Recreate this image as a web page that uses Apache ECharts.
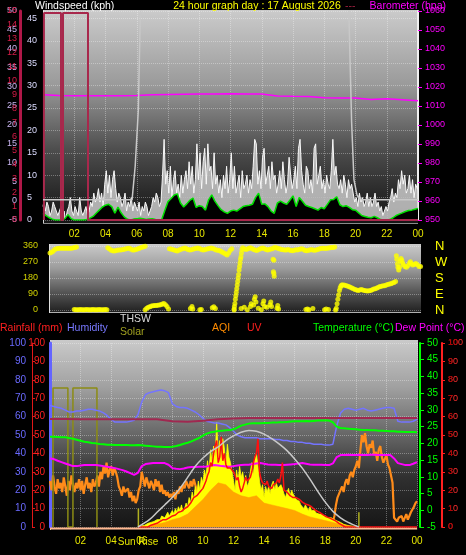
<!DOCTYPE html>
<html><head><meta charset="utf-8">
<script src="https://cdn.jsdelivr.net/npm/echarts@6/dist/echarts.min.js"></script>
<style>html,body{margin:0;padding:0;background:#000;}#c{width:466px;height:555px;}</style>
</head><body><div id="c"></div>
<script>
// ---------- tick labels ----------
const hourTickLabels = ['02','04','06','08','10','12','14','16','18','20','22','00'];
const compassLabels = ['N','E','S','W','N'];

// ---------- top panel: wind & barometer ----------
// gust speed every 0.1 h from 00:00
const gustKph = [
3,4,2,4,3,1,2,4,3,2,
1,2,3,1,2,0,2,3,5,2,
1,3,2,1,5,2,1,2,3,1,
2,4,3,6,4,5,7,4,6,3,
8,11,6,10,5,9,11,7,4,6,
5,3,4,6,2,4,3,5,2,4,
3,2,4,1,3,2,4,3,1,2,
3,5,4,6,5,3,4,10,18,8,
11,6,12,5,9,11,6,8,5,10,
6,9,11,7,13,8,12,6,9,17,
9,15,7,13,16,8,17,11,12,7,
15,8,10,6,9,5,10,7,12,6,
9,15,7,12,6,8,10,5,11,7,
8,10,6,9,7,12,18,17,8,11,
7,14,16,8,10,12,7,13,9,10,
6,8,11,7,13,9,6,8,14,10,
7,9,12,7,16,18,11,8,6,12,
11,7,9,6,16,17,8,10,12,7,
9,6,10,8,7,11,18,10,12,8,
7,9,6,10,8,5,9,7,8,6,
4,5,3,6,4,5,3,4,6,3,
5,3,4,6,3,4,2,3,1,2,
3,2,4,5,7,4,6,5,9,7,
11,8,10,6,7,10,6,9,5,8,
7];
// average speed every 0.2 h
const avgKph = [
1.5,1.0,0.5,0.2,0,0,0,0.3,1.2,0.3,
0,0,0,0,0.1,0.4,0.8,1.5,2.2,2.9,
3.3,3.5,3.0,1.5,2.9,1.6,0.7,0.2,0,0.2,
0.3,0.4,0.3,0.1,0.2,0.3,0.1,0,0.1,2.2,
4.1,4.8,5.6,5.8,3.8,2.9,3.6,4.4,4.9,2.8,
3.2,3.0,2.2,4.5,5.6,4.2,3.2,2.3,1.8,1.5,
2.0,2.2,2.0,2.5,3.0,3.2,3.3,3.5,5.0,6.0,
3.5,3.6,3.0,2.0,1.5,3.8,4.2,3.8,3.5,4.4,
5.4,3.0,5.0,4.2,3.3,3.0,2.8,2.5,2.2,2.8,
2.5,3.5,4.5,4.6,5.2,3.4,3.0,3.2,2.8,2.3,
2.2,1.6,1.0,0.8,0.6,0.5,0.8,0.5,0.1,0,
0,0.1,0.5,1.0,1.3,1.6,1.9,2.1,2.2,2.4,
2.6];
// barometer hourly
const baroHpa = [1015.9,1015.5,1015.4,1015.4,1015.4,1015.4,1015.5,1015.9,1016.1,1016.2,1016.3,1016.3,1016.4,1016.3,1016.3,1015.3,1015.1,1015.0,1014.3,1014.2,1014.2,1013.4,1013.8,1013.3,1012.7];
// dark red trace
const flagHours = [0.06,0.06,1.15,1.15,1.28,1.28,2.88,2.88,24];
const flagVals  = [0,46.2,46.2,0,0,46.2,46.2,0,0];
// grey trace (two visible pieces)
const greyHoursA = [0,5.7,5.9,6.1,6.22,6.3];
const greyValsA  = [4.5,4.5,12,24.5,44.6,50];
const greyHoursB = [19.55,19.62,19.75,19.9,20.1,20.4,24];
const greyValsB  = [50,40,22,9,5.5,4.5,4.5];

// ---------- middle panel: wind direction [hour, degrees] ----------
const windDir = [
[0.45,320],[0.55,325],[0.65,330],[0.75,340],[0.85,345],[0.95,346],[1.05,347],[1.15,347],[1.25,347],[1.35,347],[1.45,347],[1.55,347],[1.65,347],[1.75,347],[1.85,348],[1.95,350],[2.05,352],[2.15,355],
[2.0,3],[2.1,2],[2.2,1],[2.3,2],[2.4,3],[2.5,2],[2.6,1],[2.7,2],[2.8,3],[2.9,2],[3.0,1],[3.1,2],[3.2,3],[3.3,2],[3.4,1],[3.5,2],[3.6,3],[3.7,2],[3.8,1],[3.9,2],[4.0,3],[4.1,2],
[4.15,350],[4.25,345],[4.35,338],[4.45,333],[4.55,332],[4.65,333],[4.75,336],[4.85,338],[4.95,337],[5.05,339],[5.15,341],[5.25,343],[5.35,345],[5.45,348],[5.55,347],[5.65,342],[5.75,337],[5.85,338],[5.95,341],[6.05,343],[6.15,346],[6.25,350],[6.35,353],[6.45,356],[6.55,358],
[6.55,2],[6.65,10],[6.75,15],[6.85,18],[6.95,22],[7.05,24],[7.15,25],[7.25,26],[7.35,27],[7.45,28],[7.55,30],[7.65,34],[7.75,37],[7.85,30],[7.95,20],[8.05,5],
[8.1,345],[8.2,343],[8.3,340],[8.4,337],[8.5,335],[8.6,332],[8.7,336],[8.8,340],[8.9,343],[9.0,346],[9.1,349],[9.2,345],[9.3,340],[9.4,337],[9.5,339],[9.6,342],[9.7,344],[9.8,346],[9.9,349],[10.0,347],[10.1,343],[10.2,339],[10.3,337],[10.4,340],[10.5,343],[10.6,345],[10.7,347],[10.8,349],[10.9,346],[11.0,342],[11.1,338],[11.2,336],[11.3,334],[11.4,330],[11.5,325],[11.6,320],[11.7,315],[11.8,310],[11.9,320],[12.0,335],[12.1,345],
[9.45,9],[9.55,19],[9.6,5],[10.05,2],[10.15,3],[10.85,12],[10.95,18],[11.05,8],
[12.25,5],[12.27,20],[12.3,37],[12.33,60],[12.36,80],[12.39,100],[12.42,120],[12.45,140],[12.48,160],[12.51,180],[12.54,200],[12.57,225],[12.6,245],[12.63,265],[12.66,285],[12.69,300],[12.72,320],[12.75,340],
[12.25,0],[12.7,8],[12.9,15],[13.1,2],[13.3,20],[13.35,35],[13.5,28],[13.55,60],[13.6,75],[13.65,45],[13.8,10],[14.0,2],[14.1,35],[14.15,50],[14.2,20],[14.35,15],[14.55,30],[14.6,45],[14.65,20],[15.0,10],[15.05,25],[15.1,5],
[12.8,350],[12.9,345],[13.0,340],[13.1,343],[13.2,347],[13.3,350],[13.4,346],[13.5,341],[13.6,337],[13.7,335],[13.8,339],[13.9,343],[14.0,347],[14.1,349],[14.2,345],[14.3,340],[14.4,337],[14.5,340],[14.6,343],[14.7,345],[14.8,350],[14.9,352],[15.0,349],[15.1,346],[15.2,343],[15.3,341],[15.4,339],[15.5,337],[15.6,338],[15.7,340],[15.8,338],[15.9,335],[16.0,333],[16.1,336],[16.2,339],[16.3,338],[16.4,341],[16.5,343],[16.6,344],[16.7,340],[16.8,335],[16.9,333],[17.0,336],[17.1,338],[17.2,341],[17.3,338],[17.4,336],[17.5,338],[17.6,341],[17.7,343],[17.8,346],[17.9,348],[18.0,347],[18.1,346],[18.2,348],[18.3,349],[18.4,350],[18.5,351],[18.6,352],[18.7,354],
[14.75,285],[14.8,280],[14.77,215],[14.8,205],[14.82,190],
[16.85,3],[16.95,5],[17.05,2],[17.3,8],[18.05,2],[18.15,6],[18.3,3],
[18.75,0],[18.8,10],[18.85,35],[18.9,60],[18.95,85],[19.0,110],[19.05,125],[19.1,135],[19.15,140],
[19.2,141],[19.3,140],[19.4,138],[19.5,135],[19.6,132],[19.7,128],[19.8,124],[19.9,120],[20.0,116],[20.1,113],[20.2,110],[20.3,112],[20.4,115],[20.5,113],[20.6,110],[20.7,108],[20.8,107],[20.9,108],[21.0,110],[21.1,114],[21.2,118],[21.3,120],[21.4,124],[21.5,128],[21.6,132],[21.7,134],[21.8,136],[21.9,137],[22.0,140],[22.1,143],[22.2,146],[22.3,148],[22.4,152],[22.5,155],[22.6,160],
[22.65,305],[22.68,285],[22.72,260],[22.75,240],[22.8,225],[22.85,240],[22.9,275],[22.95,290],[23.0,280],[23.05,265],[23.1,255],[23.2,244],[23.3,240],[23.4,250],[23.5,265],[23.55,272],[23.6,262],[23.7,253],[23.8,258],[23.9,262],[24.0,255],[24.1,245],[24.2,244]
];

// ---------- bottom panel ----------
// every 0.25 h
const humidity = [
66,65.5,65,64.5,63.5,62.5,62.5,63,
63,63.5,64,64,63.5,63,62,60.5,
58.5,57,57,57,57,57.5,58,61,
68,72,73,73.5,74,74.5,74,73,
67,65.5,65,65,64.5,63.5,62.5,61,
59,57.5,57,56.5,56.5,56,55.5,54,
52,50,49,48.5,48.5,48.5,48.5,48,
48,48,48,47.5,47.5,47,47,46.5,
46.5,46,46,45.5,45.5,45,45,45,
44.5,44.5,45,55,62,64,64.5,64,
63.5,64,64.5,63.5,63,63.5,64,64.5,
65,65,64.5,57.5,57,57,57,57.5,
58.5];
const temperature = [
22,22,21.9,21.8,21.8,21.6,21.4,21.1,
20.8,20.5,20.3,20.1,20,19.8,19.7,19.6,
19.6,19.5,19.5,19.5,19.5,19.4,19.4,19.5,
19.4,19.3,19.2,19.1,19,19,18.9,18.9,
19,19.2,19.5,19.9,20.2,20.6,21.1,21.6,
22.3,22.9,23.3,23.5,23.7,23.8,23.9,24,
24.2,24.7,25.3,25.6,25.9,26,26,26,
26.1,26.1,26.2,26.2,26.3,26.3,26.4,26.5,
26.6,26.6,26.6,26.7,26.6,26.7,26.8,26.8,
26.9,26.8,26.3,25,24.6,24.5,24.4,24.3,
24.2,24.1,24,24,23.9,23.9,23.8,23.8,
23.7,23.6,23.6,23.5,23.5,23.4,23.4,23.4,
23.3];
const dewPoint = [
15.5,15.3,14.8,14.4,14,13.6,13.2,13.2,
13.4,13.5,13.5,13.5,13.5,13.4,13.2,13,
12.8,12.6,12.3,12,11.6,11.1,10.6,11.2,
13.2,13.8,14,14.1,14.1,14.1,14.1,13.6,
12.6,12.4,12.3,12.5,12.8,12.9,12.9,13,
13,13.1,13.3,13.5,13.4,13.2,13.1,13,
13.2,13.4,13.5,13.6,13.6,13.8,14,14.1,
13.9,13.7,13.6,13.6,13.5,13.5,13.6,13.7,
13.8,14,14.1,13.9,13.7,13.6,13.6,13.6,
13.5,13.5,14,15.9,16.5,16.5,16.6,16.5,
16.5,16.6,16.5,16.5,16.6,16.6,16.5,16.5,
16.5,16.5,15.5,14.1,13.8,13.5,13.5,13.9,
14.4];
// hourly
const rainfall = [58.7,58.7,58.6,58.6,58.6,58.5,58.5,58.5,57.5,57.2,57.8,58.6,59,59.2,59.2,59.3,59.3,59.3,59.3,59.3,59.3,59.3,59.2,59.2,59.2];
// solar every 0.1 h from 05:48
const solar = [
0,0,
0.5,1,1,1.5,2,2,2.5,3,3,3.5,
4,5,4,6,7,5,6,8,6,7,
9,7,10,8,11,9,12,8,10,13,
11,16,13,19,15,22,18,25,20,27,
24,31,27,36,30,42,35,44,38,57,
40,47,36,48,43,33,45,38,35,30,
29,20,31,25,33,27,30,24,28,22,
24,30,35,28,38,40,33,25,20,23,
16,22,19,22,18,23,25,20,24,21,
20,23,21,18,16,19,21,17,20,18,
18,15,16,14,12,13,10,12,11,9,
11,9,8,9,7.6,8,7,6.5,7,6,
5.3,6,5,4.8,5,4.3,4,3.5,3.2,2.7,
2.5,2,1.5,1,1,0.8,0.6,0.5,0.4,0.3,
0.2,0.1,0,0];
// solar (averaged) every 0.5 h from 06:30
const solarAvg = [0.5,1.5,2.5,4,5,7,11,15,20,24,23,19,17,16,17,13,12,11,10,9,7,5.5,4.5,3.5,2.5,1.5,0.8,0];
// solar flags
const solarFlagHours = [0.2,0.2,1.17,1.17,1.5,1.5,3.07,3.07];
const solarFlagVals  = [0,75.5,75.5,0,0,75.5,75.5,0];
const sunriseHours = [5.78,5.78]; const sunriseVals = [0,10];
const sunsetHours = [20.2,20.2];  const sunsetVals = [0,8];
// UV (x10 scale) every 0.1 h from 05:48
const uv = [
0,0,
0,0,0,0,0,0.5,1,1,1.5,2,
2,2.5,3,3.5,4,3.8,4,4.5,5,5.5,
6,6.5,6.5,7,8,9,8.5,9,10,10,
11,12,13,14,16,15,17,18,19,19,
21,23,25,28,30,35,33,40,44,47,
35,38,49,36,40,34,32,33,32,31,
30,28,25.5,27,22,19,21,24,27,25,
26,27,30,35,38,40,48,30,26,24,
24,23,25,22,22,21,23,22,24,26,
24,28,35,20,21,19,18,17,17,16,
17,16,16,15,14,13.5,13,12.5,12,12,
11.5,11,10,9.5,9,8.5,8,7.6,7,6.5,
6,5.5,5,4.8,4.5,4,3.8,3.2,2.5,2,
1.5,1,0.5,0,0,0,0,0,0,0,
0,0,0,0,0,0,0,0,0,0,
0,0,0,0,0,0,0,0,0,0,
0,0,0,0,0,0,0,0,0,0,
0,0,0,0,0,0,0,0,0,0,
0];
// AQI every 0.1 h: night part from 00:00, evening part from 18:30
const aqiNight = [
25,20,28,22,18,26,21,24,19,27,
22,17,25,20,28,23,19,24,21,26,
20,25,18,23,27,21,24,19,26,22,
24,28,22,30,26,33,29,35,27,31,
33,28,32,30,27,22,20,17,22,19,
18,21,16,19,14,17,13,15,20,22,
30,26,22,27,24,21,25,23,20,26,
22,25,19,23,18,20,17,19,16,18,
16,19,15,20,18,22,19,23,21,25,
24,21,25,22,26,23,20,18];
const aqiEvening = [
3,6,12,16,18,
20,22,19,24,26,23,28,30,27,31,
33,36,32,42,50,46,51,44,40,45,
43,47,39,41,36,42,44,38,35,37,
39,34,32,28,24,5,4,3,5,4,
6,3,5,7,4,6,8,9,11,13,
14];
// THSW curve
const thswHours = [5.75,6.5,7,7.5,8,8.5,9,9.5,10,10.5,11,11.5,12,12.5,13,13.5,14,14.5,15,15.5,16,16.5,17,17.5,18,18.5,19,19.5,20.2];
const thswVals  = [0,4,8,12,16,21,27,33,37.5,41,43.5,47,49.5,51.5,52.5,52,50.5,48,45,41.5,37,32,26,19.5,13.5,8.5,5,2.5,0];
const baseHours = [0,24]; const baseVals = [-0.8,-0.8];

// ---------- helpers ----------
function byStep(start, step, vals){ return vals.map((v,i)=>[Math.round((start+i*step)*100)/100, v]); }
function byHours(hours, vals){ return hours.map((h,i)=>[h, vals[i]]); }
function hourLabel(v){ return v===0 ? '' : hourTickLabels[Math.round(v/2)-1]; }

const FONT = '"Liberation Sans", Arial, sans-serif';
const split = {show:true, lineStyle:{color:'rgba(255,255,255,0.33)', type:'dotted', width:1}};
const noLine = {show:false};
const plain = v => String(v);

function L(xi, yi, data, color, width, extra){
  return Object.assign({type:'line', xAxisIndex:xi, yAxisIndex:yi, data:data, symbol:'none',
    lineStyle:{color:color, width:width}, itemStyle:{color:color}, silent:true}, extra||{});
}
function grad(stops){ return {type:'linear', x:0, y:0, x2:0, y2:1, colorStops:stops.map(s=>({offset:s[0], color:s[1]}))}; }
function txt(x, y, s, color, align, size){
  return {type:'text', x:x, y:y, z:100, style:{text:s, fill:color, font:(size||10.5)+'px '+FONT,
    align:align||'left', verticalAlign:'middle', textAlign:align||'left', textVerticalAlign:'middle'}};
}

const chart = echarts.init(document.getElementById('c'), null, {renderer:'canvas'});
const option = {
  backgroundColor:'#000',
  animation:false,
  grid:[
    {left:43, top:11, width:375, height:209, containLabel:false, outerBoundsMode:'none'},
    {left:50, top:246, width:371, height:64, containLabel:false, outerBoundsMode:'none'},
    {left:50, top:343, width:367, height:184, containLabel:false, outerBoundsMode:'none'}
  ],
  xAxis:[
    {gridIndex:0, type:'value', min:0, max:24, interval:2, axisLine:noLine, axisTick:noLine,
     axisLabel:{color:'#e6e600', fontSize:10, fontFamily:FONT, margin:9, formatter:hourLabel, showMinLabel:false}, splitLine:split},
    {gridIndex:1, type:'value', min:0.45, max:24.23, show:false},
    {gridIndex:2, type:'value', min:0, max:24, interval:2, axisLine:noLine, axisTick:noLine,
     axisLabel:{color:'#e6e600', fontSize:10, fontFamily:FONT, margin:9, formatter:hourLabel, showMinLabel:false}, splitLine:split}
  ],
  yAxis:[
    // 0 windspeed
    {gridIndex:0, type:'value', min:0, max:46.65, interval:5, position:'left', offset:20,
     axisLine:{show:true, lineStyle:{color:'#e8e8e8', width:1}}, axisTick:noLine,
     axisLabel:{inside:true, color:'#dcdcff', fontSize:9, fontFamily:FONT, margin:4, showMaxLabel:false, formatter:plain}, splitLine:split},
    // 1 lavender scale
    {gridIndex:0, type:'value', min:-5, max:50, interval:5, position:'left', offset:23,
     axisLine:noLine, axisTick:noLine, axisLabel:{color:'#c8b4f0', fontSize:9, fontFamily:FONT, margin:3, formatter:plain}, splitLine:noLine},
    // 2 red scale
    {gridIndex:0, type:'value', min:0, max:15, interval:1, position:'left', offset:23,
     axisLine:{show:true, lineStyle:{color:'#b01848', width:3}}, axisTick:noLine,
     axisLabel:{color:'#d81c48', fontSize:9, fontFamily:FONT, margin:3, formatter:plain}, splitLine:noLine},
    // 3 barometer
    {gridIndex:0, type:'value', min:950, max:1060, interval:10, position:'right', offset:0,
     axisLine:{show:true, lineStyle:{color:'#f0f0f0', width:2}}, axisTick:{show:true, length:4, lineStyle:{color:'#ff00ff'}},
     axisLabel:{color:'#ff00ff', fontSize:9, fontFamily:FONT, margin:7, formatter:plain}, splitLine:noLine},
    // 4 direction degrees
    {gridIndex:1, type:'value', min:0, max:360, interval:90, position:'left',
     axisLine:noLine, axisTick:noLine, axisLabel:{color:'#d2d200', fontSize:9, fontFamily:FONT, margin:12, formatter:plain}, splitLine:split},
    // 5 compass
    {gridIndex:1, type:'value', min:0, max:360, interval:90, position:'right',
     axisLine:noLine, axisTick:noLine, splitLine:noLine,
     axisLabel:{color:'#ffff00', fontSize:13, fontFamily:FONT, margin:14, formatter:v=>compassLabels[Math.round(v/90)]}},
    // 6 humidity
    {gridIndex:2, type:'value', min:0, max:100, interval:10, position:'left', offset:20,
     axisLine:{show:true, lineStyle:{color:'#6464ff', width:3}}, axisTick:noLine,
     axisLabel:{color:'#6a6aff', fontSize:10, fontFamily:FONT, margin:4, formatter:plain}, splitLine:split},
    // 7 rainfall
    {gridIndex:2, type:'value', min:0, max:100, interval:10, position:'left', offset:18,
     axisLine:{show:true, lineStyle:{color:'#e01818', width:1}}, axisTick:{show:true, inside:true, length:3, lineStyle:{color:'#e01818'}},
     axisLabel:{inside:true, align:'right', color:'#ff2020', fontSize:10, fontFamily:FONT, margin:13, formatter:plain}, splitLine:noLine},
    // 8 temperature
    {gridIndex:2, type:'value', min:-5, max:50, interval:5, position:'right', offset:3,
     axisLine:{show:true, lineStyle:{color:'#00ff00', width:2}}, axisTick:{show:true, length:4, lineStyle:{color:'#00ff00'}},
     axisLabel:{color:'#00ff00', fontSize:10, fontFamily:FONT, margin:7, formatter:plain}, splitLine:noLine},
    // 9 red 0-100
    {gridIndex:2, type:'value', min:0, max:100, interval:10, position:'right', offset:25,
     axisLine:{show:true, lineStyle:{color:'#ff2020', width:2}}, axisTick:{show:true, length:3, lineStyle:{color:'#ff2020'}},
     axisLabel:{color:'#ff3030', fontSize:9, fontFamily:FONT, margin:6, formatter:plain}, splitLine:noLine},
    // 10 UV 0-10
    {gridIndex:2, type:'value', min:0, max:10, interval:1, position:'right', offset:25,
     axisLine:noLine, axisTick:noLine, axisLabel:{color:'#a80000', fontSize:9, fontFamily:FONT, margin:6, formatter:plain}, splitLine:noLine}
  ],
  graphic:[
    {type:'rect', z:-10, shape:{x:43, y:10, width:375, height:214},
     style:{fill:grad([[0,'#cbcbcb'],[0.35,'#9a9a9a'],[0.65,'#4e4e4e'],[0.85,'#2a2a2a'],[1,'#151515']])}},
    {type:'rect', z:-10, shape:{x:50, y:244, width:371, height:69},
     style:{fill:grad([[0,'#cacaca'],[0.35,'#9c9c9c'],[0.7,'#555555'],[1,'#1e1e1e']])}},
    {type:'rect', z:-10, shape:{x:50, y:340, width:368, height:190},
     style:{fill:grad([[0,'#cacaca'],[0.25,'#a0a0a0'],[0.5,'#666666'],[0.72,'#303030'],[1,'#151515']])}},
    {type:'line', z:-5, shape:{x1:43.5, y1:10, x2:43.5, y2:224}, style:{stroke:'#d0d0d0', lineWidth:1}},
    {type:'line', z:-5, shape:{x1:43, y1:223.5, x2:418, y2:223.5}, style:{stroke:'#8a8a8a', lineWidth:1}},
    {type:'line', z:-5, shape:{x1:49.5, y1:244, x2:49.5, y2:313}, style:{stroke:'#e0e0e0', lineWidth:1}},
    {type:'line', z:-5, shape:{x1:50, y1:312.5, x2:421, y2:312.5}, style:{stroke:'#b0b0b0', lineWidth:1}},
    {type:'line', z:-5, shape:{x1:50.5, y1:340, x2:50.5, y2:530}, style:{stroke:'#d8d8d8', lineWidth:1}},
    txt(35, 6, 'Windspeed (kph)', '#ffffff'),
    txt(257, 6, '24 hour graph day : 17 August 2026', '#ffff00', 'center'),
    txt(345, 6, '---', '#a02040'),
    txt(446, 6, 'Barometer (hpa)', '#ff00ff', 'right'),
    txt(0, 328, 'Rainfall (mm)', '#ff2020'),
    txt(67, 328, 'Humidity', '#7878ff'),
    txt(120, 319, 'THSW', '#d8d8d8'),
    txt(120, 332, 'Solar', '#a0a020'),
    txt(212, 328, 'AQI', '#ff8c00'),
    txt(247, 328, 'UV', '#ff2020'),
    txt(313, 328, 'Temperature (°C)', '#00ff00'),
    txt(395, 328, 'Dew Point (°C)', '#ff00ff'),
    txt(138, 542, 'Sun Rise', '#e6e600', 'center', 10)
  ],
  series:[
    // top
    L(0,0, byStep(0,0.1,gustKph), '#f8f8f8', 1, {step:'middle', areaStyle:{color:'#c4c4c4', opacity:0.88}, z:2}),
    L(0,0, byStep(0,0.2,avgKph), '#00e000', 1.5, {areaStyle:{color:'#000000', opacity:1}, z:3}),
    L(0,3, byStep(0,1,baroHpa), '#ff00ff', 1.5, {z:4}),
    L(0,0, byHours(flagHours, flagVals), '#a8284c', 2, {z:5}),
    L(0,0, byHours(greyHoursA, greyValsA), '#c8c8c8', 1.5, {z:5}),
    L(0,0, byHours(greyHoursB, greyValsB), '#c8c8c8', 1.5, {z:5}),
    // middle
    {type:'scatter', xAxisIndex:1, yAxisIndex:4, data:windDir, symbol:'circle', symbolSize:5,
     itemStyle:{color:'#ffff00'}, silent:true, z:3},
    // bottom
    L(2,6, byStep(0,0.1,aqiNight).concat([[9.8,'-']]).concat(byStep(18.5,0.1,aqiEvening)), '#ff8c1a', 2.2, {z:2, connectNulls:false}),
    L(2,6, byStep(5.8,0.1,solar), '#ffff00', 0.8, {areaStyle:{color:'#ffff00', opacity:1}, z:3}),
    L(2,6, byStep(6.5,0.5,solarAvg), '#ffa500', 0.5, {areaStyle:{color:'#ffa200', opacity:0.95}, z:4}),
    L(2,6, byHours(solarFlagHours, solarFlagVals), '#8c8c14', 1.5, {z:4}),
    L(2,6, byHours(sunriseHours, sunriseVals), '#b0b020', 1.5, {z:4}),
    L(2,6, byHours(sunsetHours, sunsetVals), '#b0b020', 1.5, {z:4}),
    L(2,6, byStep(0,0.25,humidity), '#7474ff', 1.5, {z:5}),
    L(2,7, byStep(0,1,rainfall), '#a02850', 2, {z:5}),
    L(2,8, byStep(0,0.25,temperature), '#00ff00', 2, {z:6}),
    L(2,8, byStep(0,0.25,dewPoint), '#ff00ff', 2, {z:6}),
    L(2,6, byHours(baseHours, baseVals), '#ffb890', 2, {z:6, clip:false}),
    L(2,9, byStep(5.8,0.1,uv), '#ff1010', 1.5, {z:7}),
    L(2,6, byHours(thswHours, thswVals), '#c8c8c8', 1.5, {z:8, smooth:0.3})
  ]
};
chart.setOption(option);
</script></body></html>
